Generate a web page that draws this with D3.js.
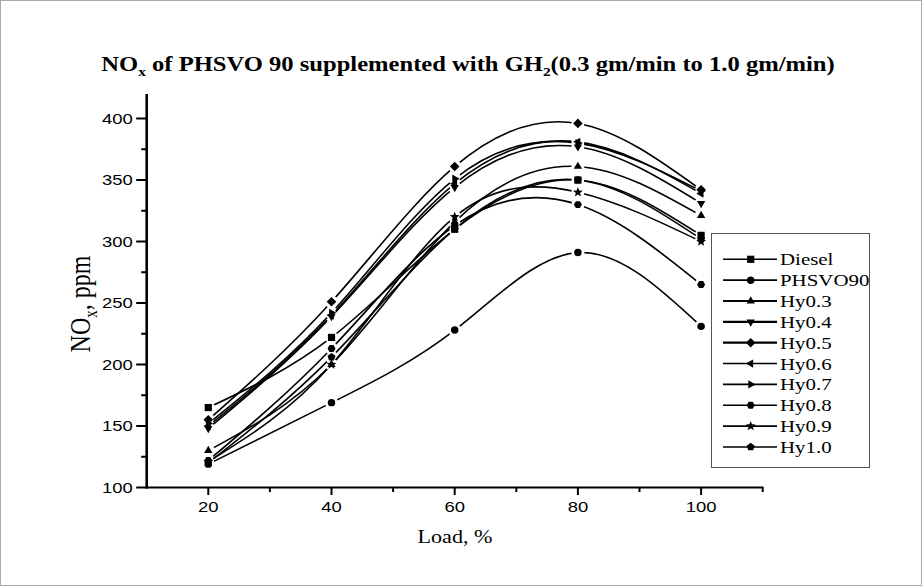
<!DOCTYPE html>
<html><head><meta charset="utf-8">
<script src="https://cdn.jsdelivr.net/npm/d3@7"></script>
<style>body{margin:0;background:#fff}svg{display:block}</style>
</head><body>
<svg id="chart" width="922" height="586"></svg>
<script>
const loads = [20, 40, 60, 80, 100];
const seriesNames = ["Diesel","PHSVO90","Hy0.3","Hy0.4","Hy0.5","Hy0.6","Hy0.7","Hy0.8","Hy0.9","Hy1.0"];
const diesel  = [165, 222, 310, 350, 305];
const phsvo90 = [119, 169, 228, 291, 231];
const hy03    = [130, 200, 316, 361, 321];
const hy04    = [148, 239, 344, 377, 331];
const hy05    = [155, 251, 361, 396, 342];
const hy06    = [150, 240, 347, 381, 339];
const hy07    = [152, 242, 351, 380, 341];
const hy08    = [122, 213, 313, 330, 265];
const hy09    = [121, 200, 320, 340, 300];
const hy10    = [120, 206, 310, 350, 302];
const seriesValues = [diesel, phsvo90, hy03, hy04, hy05, hy06, hy07, hy08, hy09, hy10];
const symbols = ["square","circle","up","down","diamond","left","right","hexagon","star","pentagon"];
const xTicks = [20, 40, 60, 80, 100];
const yTicks = [100, 150, 200, 250, 300, 350, 400];

const SX = 1.23; // horizontal stretch of text in the reference
const svg = d3.select("#chart");
svg.append("rect").attr("x",0.5).attr("y",0.5).attr("width",921).attr("height",585)
  .attr("fill","#fff").attr("stroke","#aaa");

const x = d3.scaleLinear().domain([10, 110]).range([146.7, 762.7]);
const y = d3.scaleLinear().domain([100, 420]).range([487.5, 93.9]);

function poly(n, r, startDeg) {
  const pts = [];
  for (let i = 0; i < n; i++) {
    const a = (startDeg + i * 360 / n) * Math.PI / 180;
    pts.push([r * Math.cos(a), r * Math.sin(a)]);
  }
  return "M" + pts.map(p => p[0].toFixed(2) + "," + p[1].toFixed(2)).join("L") + "Z";
}
function star(ro, ri) {
  const pts = [];
  for (let i = 0; i < 10; i++) {
    const a = (-90 + i * 36) * Math.PI / 180, r = i % 2 ? ri : ro;
    pts.push([r * Math.cos(a), r * Math.sin(a)]);
  }
  return "M" + pts.map(p => p[0].toFixed(2) + "," + p[1].toFixed(2)).join("L") + "Z";
}
function symPath(t) {
  switch (t) {
    case "square": return "M-3.6,-3.6H3.6V3.6H-3.6Z";
    case "circle": return d3.symbol(d3.symbolCircle, 44)();
    case "up": return poly(3, 4.8, -90);
    case "down": return poly(3, 4.8, 90);
    case "left": return poly(3, 4.8, 180);
    case "right": return poly(3, 4.8, 0);
    case "diamond": return poly(4, 4.8, -90);
    case "hexagon": return poly(6, 4.0, 0);
    case "star": return star(5.2, 2.2);
    case "pentagon": return poly(5, 4.2, -90);
  }
}

// axes
const xAxis = svg.append("g").attr("transform", "translate(0,487.5)");
xAxis.append("line").attr("x1", 145.5).attr("x2", 763.5).attr("stroke", "#000").attr("stroke-width", 2.2);
const xMinor = [30, 50, 70, 90, 110];
xTicks.forEach(v => xAxis.append("line").attr("x1", x(v)).attr("x2", x(v)).attr("y1", 0).attr("y2", 7.5)
  .attr("stroke", "#000").attr("stroke-width", 2));
xMinor.forEach(v => xAxis.append("line").attr("x1", x(v)).attr("x2", x(v)).attr("y1", 0).attr("y2", 4.5)
  .attr("stroke", "#000").attr("stroke-width", 2));
xTicks.forEach(v => xAxis.append("g").attr("transform", `translate(${x(v)},24) scale(${SX},1)`)
  .append("text").attr("text-anchor", "middle").attr("font-family", "Liberation Sans, Arial, sans-serif")
  .attr("font-size", 15).text(v));

const yAxis = svg.append("g").attr("transform", "translate(146.7,0)");
yAxis.append("line").attr("y1", y(420)).attr("y2", 488.6).attr("stroke", "#000").attr("stroke-width", 2.6);
const yMinor = [125, 175, 225, 275, 325, 375];
yTicks.forEach(v => yAxis.append("line").attr("y1", y(v)).attr("y2", y(v)).attr("x1", 0).attr("x2", -10.5)
  .attr("stroke", "#000").attr("stroke-width", 2));
yMinor.forEach(v => yAxis.append("line").attr("y1", y(v)).attr("y2", y(v)).attr("x1", 0).attr("x2", -5.5)
  .attr("stroke", "#000").attr("stroke-width", 2));
yTicks.forEach(v => yAxis.append("g").attr("transform", `translate(-14,${y(v) + 5.3}) scale(${SX},1)`)
  .append("text").attr("text-anchor", "end").attr("font-family", "Liberation Sans, Arial, sans-serif")
  .attr("font-size", 15).text(v));

// axis titles
svg.append("g").attr("transform", `translate(455,543) scale(${SX},1)`)
  .append("text").attr("text-anchor", "middle").attr("font-family", "Liberation Serif, Times New Roman, serif")
  .attr("font-size", 18).text("Load, %");
const yt = svg.append("g").attr("transform", `translate(90,304) scale(${SX},1) rotate(-90)`)
  .append("text").attr("text-anchor", "middle").attr("font-family", "Liberation Serif, Times New Roman, serif")
  .attr("font-size", 24);
yt.append("tspan").text("NO");
yt.append("tspan").attr("font-size", 15).attr("dy", 6).text("x");
yt.append("tspan").attr("dy", -6).text(", ppm");

// title
const tt = svg.append("g").attr("transform", `translate(468,71) scale(${SX},1)`)
  .append("text").attr("text-anchor", "middle").attr("font-family", "Liberation Serif, Times New Roman, serif")
  .attr("font-weight", "bold").attr("font-size", 20);
tt.append("tspan").text("NO");
tt.append("tspan").attr("font-size", 12.5).attr("dy", 5).text("x");
tt.append("tspan").attr("dy", -5).text(" of PHSVO 90 supplemented with GH");
tt.append("tspan").attr("font-size", 12.5).attr("dy", 5).text("2");
tt.append("tspan").attr("dy", -5).text("(0.3 gm/min to 1.0 gm/min)");

// series
const defs = svg.append("defs");
const line = d3.line().x(d => x(d[0])).y(d => y(d[1])).curve(d3.curveNatural);
seriesValues.forEach((vals, i) => {
  const pts = loads.map((l, j) => [l, vals[j]]);
  const m = defs.append("mask").attr("id", "m" + i).attr("maskUnits", "userSpaceOnUse")
    .attr("x", 0).attr("y", 0).attr("width", 922).attr("height", 586);
  m.append("rect").attr("width", 922).attr("height", 586).attr("fill", "#fff");
  pts.forEach(p => m.append("circle").attr("cx", x(p[0])).attr("cy", y(p[1])).attr("r", 6.5).attr("fill", "#000"));
  svg.append("path").attr("d", line(pts)).attr("fill", "none").attr("stroke", "#000")
    .attr("stroke-width", 1.6).attr("mask", `url(#m${i})`);
});
seriesValues.forEach((vals, i) => {
  loads.forEach((l, j) => svg.append("path").attr("d", symPath(symbols[i]))
    .attr("transform", `translate(${x(l)},${y(vals[j])})`).attr("fill", "#000"));
});

// legend
const lg = svg.append("g");
lg.append("rect").attr("x", 711.5).attr("y", 233.5).attr("width", 158).attr("height", 234)
  .attr("fill", "#fff").attr("stroke", "#555").attr("stroke-width", 1);
seriesNames.forEach((n, i) => {
  const cy = 259.3 + i * 20.85;
  lg.append("line").attr("x1", 723).attr("x2", 777).attr("y1", cy).attr("y2", cy)
    .attr("stroke", "#000").attr("stroke-width", i >= 2 && i <= 4 ? 2.2 : 1.6);
  lg.append("path").attr("d", symPath(symbols[i])).attr("transform", `translate(750.7,${cy})`).attr("fill", "#000");
  lg.append("g").attr("transform", `translate(780,${cy + 6}) scale(${SX},1)`)
    .append("text").attr("font-family", "Liberation Serif, Times New Roman, serif").attr("font-size", 17).text(n);
});
</script>
</body></html>
